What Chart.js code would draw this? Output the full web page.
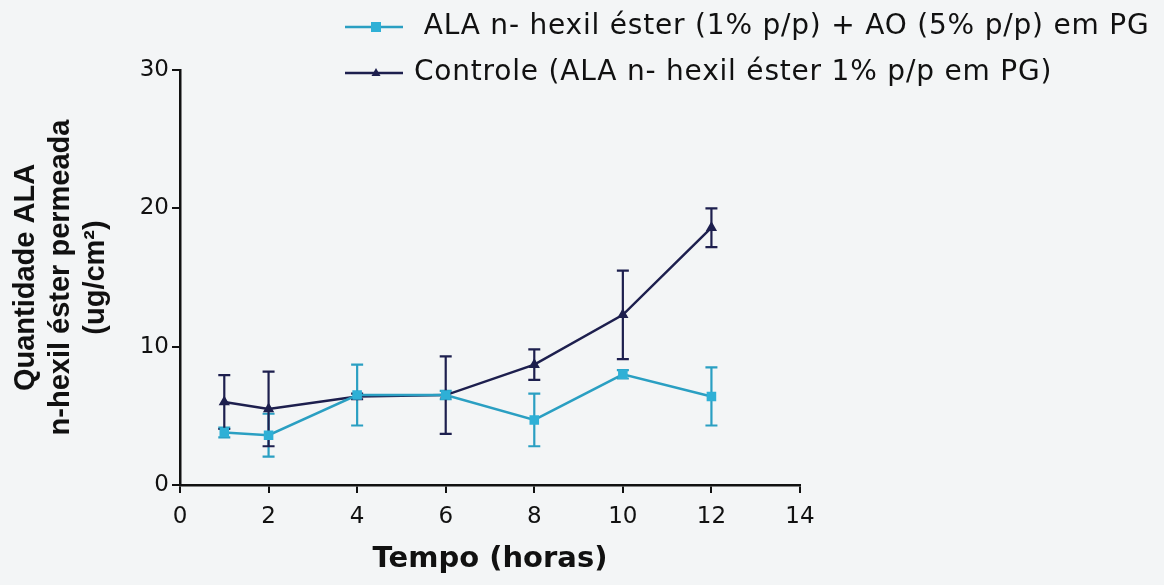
<!DOCTYPE html>
<html>
<head>
<meta charset="utf-8">
<script src="https://cdn.jsdelivr.net/npm/chart.js@4"></script>
<style>
    html, body { margin: 0; padding: 0; background: #f3f5f6; }
    #wrap { width: 1164px; height: 585px; }
</style>
</head>
<body>
<div id="wrap"><canvas id="permeacaoChart" width="1164" height="585"></canvas></div>
<script>
    const horas = [1, 2, 4, 6, 8, 10, 12];
    const aoMedia = [3.8, 3.6, 6.5, 6.5, 4.7, 8.0, 6.4];
    const aoDP = [0.35, 1.55, 2.2, 0.3, 1.9, 0.3, 2.1];
    const controleMedia = [6.0, 5.5, 6.4, 6.5, 8.7, 12.3, 18.6];
    const controleDP = [1.95, 2.7, 0.2, 2.8, 1.1, 3.2, 1.4];
    const xTicks = [0, 2, 4, 6, 8, 10, 12, 14];
    const yTicks = [0, 10, 20, 30];

    const corAO = '#2a9fc2';
    const corControle = '#1d1f4e';
    const fonteTexto = 'DejaVu Sans, Verdana, sans-serif';
    const fonteTitulo = 'Liberation Sans, Arial, sans-serif';

    function pontos(xs, ys) {
        return xs.map((x, i) => ({ x: x, y: ys[i] }));
    }

    // error bars (mean +/- SD) drawn under the points
    const barrasErro = {
        id: 'barrasErro',
        beforeDatasetsDraw(chart) {
            const ctx = chart.ctx;
            const yScale = chart.scales.y;
            chart.data.datasets.forEach((ds, di) => {
                const meta = chart.getDatasetMeta(di);
                ctx.save();
                ctx.strokeStyle = ds.borderColor;
                ctx.lineWidth = 2.2;
                meta.data.forEach((pt, i) => {
                    const m = ds.data[i].y, sd = ds.erro[i];
                    const yTop = yScale.getPixelForValue(m + sd);
                    const yBot = yScale.getPixelForValue(m - sd);
                    ctx.beginPath();
                    ctx.moveTo(pt.x, yTop); ctx.lineTo(pt.x, yBot);
                    ctx.moveTo(pt.x - 6, yTop); ctx.lineTo(pt.x + 6, yTop);
                    ctx.moveTo(pt.x - 6, yBot); ctx.lineTo(pt.x + 6, yBot);
                    ctx.stroke();
                });
                ctx.restore();
            });
        }
    };

    // legend stacked at the top, left aligned
    const legenda = {
        id: 'legenda',
        afterDraw(chart) {
            const ctx = chart.ctx;
            const x0 = 345, x1 = 403, xTexto = 414;
            const linhas = [27, 73];
            chart.data.datasets.forEach((ds, i) => {
                const y = linhas[i];
                ctx.save();
                ctx.strokeStyle = ds.borderColor;
                ctx.lineWidth = 2.5;
                ctx.beginPath();
                ctx.moveTo(x0, y); ctx.lineTo(x1, y);
                ctx.stroke();
                ctx.fillStyle = ds.pointBackgroundColor;
                const cx = (x0 + x1) / 2 + 2;
                if (ds.pointStyle === 'rect') {
                    ctx.fillRect(cx - 5, y - 5, 10, 10);
                } else {
                    ctx.beginPath();
                    ctx.moveTo(cx, y - 5); ctx.lineTo(cx + 4.5, y + 3); ctx.lineTo(cx - 4.5, y + 3);
                    ctx.closePath(); ctx.fill();
                }
                ctx.fillStyle = '#111';
                ctx.font = '28px ' + fonteTexto;
                ctx.letterSpacing = '0.8px';
                ctx.textBaseline = 'middle';
                ctx.fillText(ds.label, xTexto, y);
                ctx.restore();
            });
        }
    };

    const ctx = document.getElementById('permeacaoChart').getContext('2d');
    new Chart(ctx, {
        type: 'scatter',
        data: {
            datasets: [{
                label: ' ALA n- hexil éster (1% p/p) + AO (5% p/p) em PG',
                data: pontos(horas, aoMedia),
                erro: aoDP,
                showLine: true,
                borderColor: corAO,
                borderWidth: 2.5,
                pointStyle: 'rect',
                pointRadius: 5,
                pointBackgroundColor: '#2fb0d6',
                pointBorderColor: '#2fb0d6',
                tension: 0
            }, {
                label: 'Controle (ALA n- hexil éster 1% p/p em PG)',
                data: pontos(horas, controleMedia),
                erro: controleDP,
                showLine: true,
                borderColor: corControle,
                borderWidth: 2.5,
                pointStyle: 'triangle',
                pointRadius: 4,
                pointBackgroundColor: corControle,
                pointBorderColor: corControle,
                tension: 0
            }]
        },
        options: {
            responsive: false,
            animation: false,
            layout: { padding: { left: 0, top: 70, right: 364, bottom: 0 } },
            plugins: {
                legend: { display: false },
                tooltip: { enabled: false }
            },
            scales: {
                x: {
                    type: 'linear',
                    min: 0, max: 14,
                    afterFit: s => { s.height = 100; },
                    afterBuildTicks: s => { s.ticks = xTicks.map(v => ({ value: v })); },
                    grid: { display: true, drawOnChartArea: false, tickLength: 8, color: '#111', lineWidth: 2 },
                    border: { color: '#111', width: 2.5 },
                    ticks: { color: '#111', padding: 10, font: { family: fonteTexto, size: 23 } },
                    title: {
                        display: true,
                        text: 'Tempo (horas)',
                        color: '#111',
                        padding: { top: 0, bottom: 8 },
                        font: { family: fonteTexto, size: 29, weight: 'bold' }
                    }
                },
                y: {
                    min: 0, max: 30,
                    afterFit: s => { s.width = 180; },
                    afterBuildTicks: s => { s.ticks = yTicks.map(v => ({ value: v })); },
                    grid: { display: true, drawOnChartArea: false, tickLength: 8, color: '#111', lineWidth: 2 },
                    border: { color: '#111', width: 2.5 },
                    ticks: { color: '#111', padding: 3, font: { family: fonteTexto, size: 23 } },
                    title: {
                        display: true,
                        text: ['Quantidade ALA', 'n-hexil éster permeada', '(ug/cm²)'],
                        color: '#111',
                        padding: { top: 9, bottom: 0 },
                        font: { family: fonteTitulo, size: 29, weight: 'bold', lineHeight: 1.2 }
                    }
                }
            }
        },
        plugins: [barrasErro, legenda]
    });
</script>
</body>
</html>
